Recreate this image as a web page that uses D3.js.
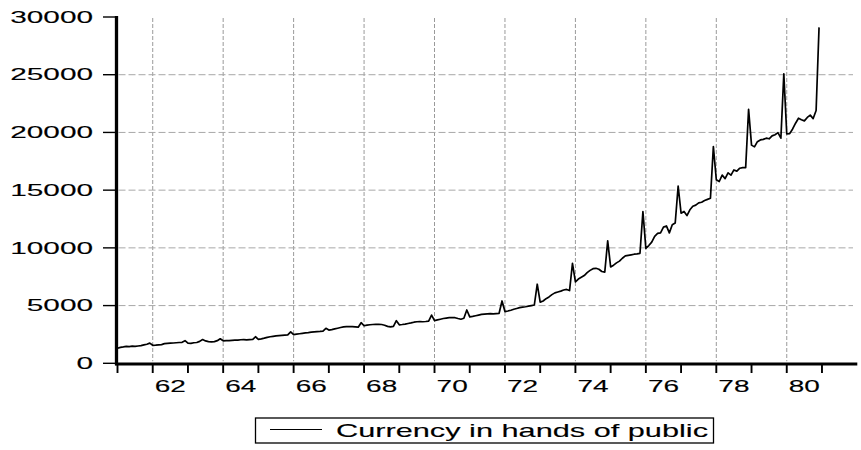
<!DOCTYPE html>
<html><head><meta charset="utf-8">
<script src="https://cdn.jsdelivr.net/npm/d3@7/dist/d3.min.js"></script>
<style>body{margin:0;background:#fff}svg{display:block}text{stroke:#000;stroke-width:0.12px}</style>
</head><body>
<svg id="c" width="861" height="450"></svg>
<script>
const years = [1961,1962,1963,1964,1965,1966,1967,1968,1969,1970,1971,1972,1973,1974,1975,1976,1977,1978,1979,1980];
const currency = [
 [1300,1380,1420,1470,1450,1480,1460,1500,1530,1590,1650,1750],
 [1560,1570,1600,1620,1700,1720,1740,1760,1780,1800,1820,1960],
 [1740,1720,1780,1800,1900,2060,1940,1880,1860,1880,1960,2120],
 [1950,1960,1960,1980,2000,2010,2040,2050,2030,2050,2060,2300],
 [2080,2120,2180,2250,2300,2340,2380,2400,2420,2440,2460,2720],
 [2480,2520,2560,2600,2630,2660,2700,2720,2740,2760,2790,3030],
 [2880,2920,2980,3040,3100,3150,3170,3180,3170,3150,3130,3520],
 [3250,3300,3340,3360,3380,3380,3360,3300,3200,3150,3200,3690],
 [3330,3360,3400,3450,3500,3560,3600,3610,3600,3620,3650,4180],
 [3700,3760,3820,3880,3920,3950,3960,3950,3880,3820,3900,4620],
 [4020,4060,4120,4180,4240,4260,4280,4300,4290,4310,4330,5400],
 [4480,4530,4600,4680,4750,4820,4860,4900,4950,5000,5050,6850],
 [5300,5400,5600,5750,5950,6100,6180,6250,6350,6400,6300,8650],
 [7050,7300,7450,7600,7850,8050,8200,8230,8150,7950,7900,10600],
 [8350,8500,8700,8850,9100,9300,9350,9400,9450,9480,9530,13150],
 [9950,10200,10500,11000,11250,11300,11800,11900,11300,12000,12150,15350],
 [13000,13150,12800,13300,13600,13700,13900,13950,14100,14200,14300,18770],
 [15900,15750,16300,16000,16500,16300,16750,16650,16900,16950,16950,22000],
 [18900,18750,19200,19350,19400,19500,19450,19700,19800,19980,19500,25070],
 [19870,19900,20300,20800,21230,21100,21000,21300,21500,21200,21900,29100]
];
const yTicks = [0,5000,10000,15000,20000,25000,30000];
const yGrid = [5000,10000,15000,20000,25000];
const xTickYears = d3.range(1961, 1982);
const xLabelYears = [1962,1964,1966,1968,1970,1972,1974,1976,1978,1980];
const seriesName = "Currency in hands of public";

const data = [];
years.forEach((yr,i)=>currency[i].forEach((v,m)=>data.push({t: yr + m/12, v})));

const svg = d3.select("#c");
const x = d3.scaleLinear().domain([1961,1982]).range([117.5,857.2]);
const y = d3.scaleLinear().domain([0,30000]).range([363.3,17]);
const font = "'Liberation Sans', Arial, sans-serif";

// gridlines
svg.append("g").selectAll("line").data(xLabelYears).join("line")
  .attr("x1",d=>x(d)).attr("x2",d=>x(d)).attr("y1",y(30000)+1).attr("y2",y(0)-2)
  .attr("stroke","#9a9a9a").attr("stroke-width",1).attr("stroke-dasharray","4,2");
svg.append("g").selectAll("line").data(yGrid).join("line")
  .attr("x1",x(1961)+1).attr("x2",853).attr("y1",d=>y(d)).attr("y2",d=>y(d))
  .attr("stroke","#a8a8a8").attr("stroke-width",1).attr("stroke-dasharray","7,3");

// series
svg.append("path").datum(data)
  .attr("d", d3.line().x(d=>x(d.t)).y(d=>y(d.v)))
  .attr("fill","none").attr("stroke","#000").attr("stroke-width",1.7).attr("stroke-linejoin","round");

// y axis
svg.append("line").attr("x1",116.5).attr("x2",116.5).attr("y1",y(30000)-1).attr("y2",y(0)+2)
  .attr("stroke","#000").attr("stroke-width",3.3);
svg.append("g").selectAll("line").data(yTicks).join("line")
  .attr("x1",103).attr("x2",116).attr("y1",d=>y(d)).attr("y2",d=>y(d))
  .attr("stroke","#000").attr("stroke-width",1.4);
svg.append("g").selectAll("text").data(yTicks).join("text")
  .attr("transform",d=>`translate(93,${y(d)+5.7}) scale(1.86,1)`).attr("text-anchor","end")
  .attr("font-family",font).attr("font-size",16).attr("fill","#000")
  .text(d=>d);

// x axis
svg.append("line").attr("x1",115).attr("x2",857.3).attr("y1",364).attr("y2",364)
  .attr("stroke","#000").attr("stroke-width",3.2);
svg.append("g").selectAll("line").data(xTickYears).join("line")
  .attr("x1",d=>x(d)).attr("x2",d=>x(d)).attr("y1",364).attr("y2",373)
  .attr("stroke","#000").attr("stroke-width",1.9);
svg.append("g").selectAll("text").data(xLabelYears).join("text")
  .attr("transform",d=>`translate(${x(d+0.5)},392) scale(1.75,1)`).attr("text-anchor","middle")
  .attr("font-family",font).attr("font-size",16).attr("fill","#000")
  .text(d=>String(d).slice(2));

// legend
const lg = svg.append("g");
lg.append("rect").attr("x",255.5).attr("y",418).attr("width",458).attr("height",25)
  .attr("fill","#fff").attr("stroke","#000").attr("stroke-width",1.3);
lg.append("line").attr("x1",270).attr("x2",322).attr("y1",429.5).attr("y2",429.5)
  .attr("stroke","#000").attr("stroke-width",1.2);
lg.append("text").attr("transform","translate(336,437) scale(1.755,1)")
  .attr("font-family",font).attr("font-size",17.5).attr("fill","#000").text(seriesName);
</script>
</body></html>
